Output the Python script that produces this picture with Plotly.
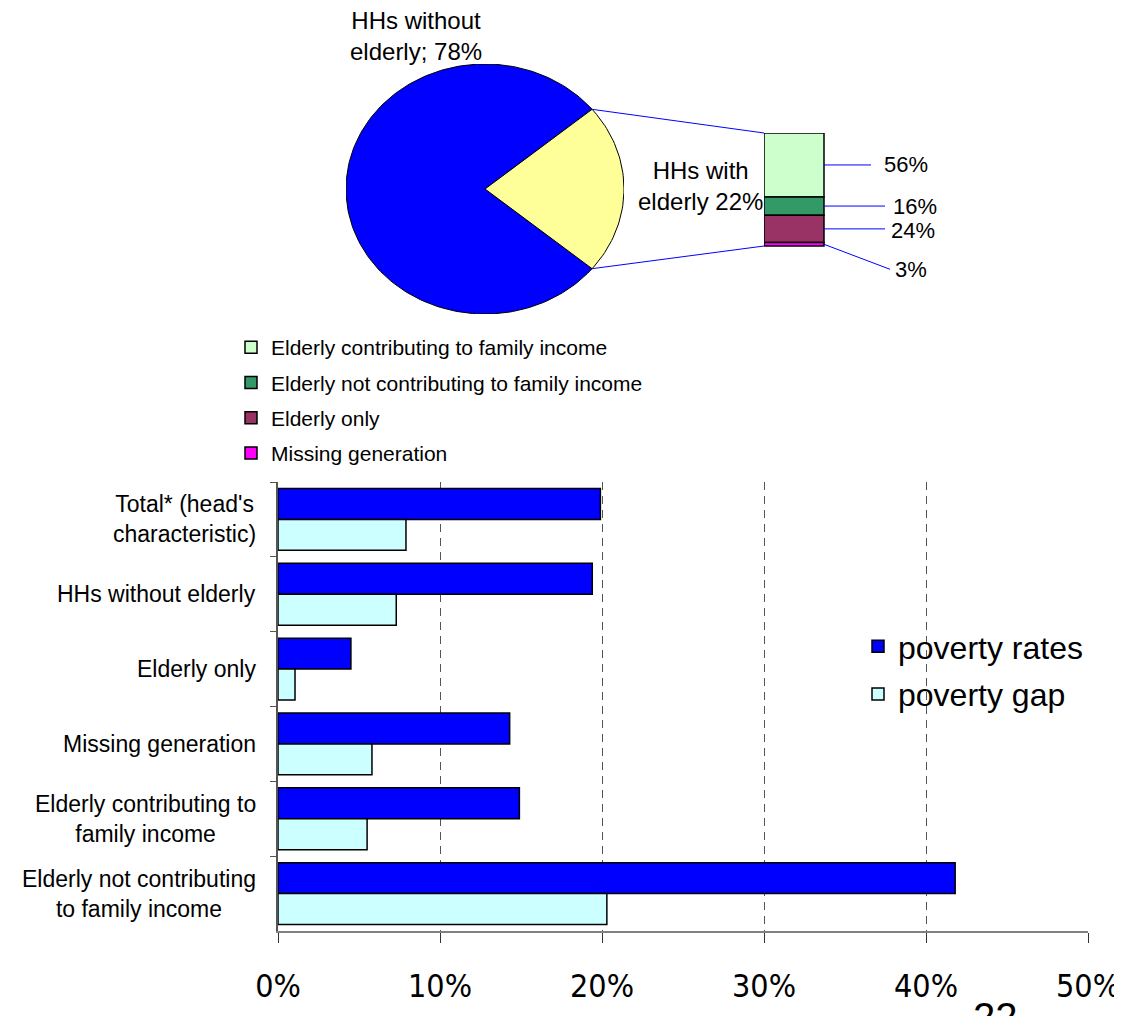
import math
import plotly.graph_objects as go

PAGE_W, PAGE_H = 1122, 1016
BODY = 8                      # page margin around the figure
W, H = PAGE_W - BODY, PAGE_H - BODY

# ---------------- data ----------------
pie_labels = ["HHs without elderly", "HHs with elderly"]
pie_values = [78, 22]

# listed top of the column first (legend order)
sub_labels = ["Elderly contributing to family income",
              "Elderly not contributing to family income",
              "Elderly only", "Missing generation"]
sub_values = [56, 16, 24, 3]
sub_text = ["56%", "16%", "24%", "3%"]

categories = ["Total* (head's<br>characteristic)", "HHs without elderly", "Elderly only",
              "Missing generation", "Elderly contributing to<br>family income",
              "Elderly not contributing<br>to family income"]
poverty_rates = [19.9, 19.4, 4.5, 14.3, 14.9, 41.8]
poverty_gap = [7.9, 7.3, 1.05, 5.8, 5.5, 20.3]
x_ticks = [0, 10, 20, 30, 40, 50]

# ---------------- styles ----------------
FONT = "Liberation Sans, Arial, sans-serif"
NARROW = "Liberation Sans Narrow, Arial Narrow, DejaVu Sans Condensed, sans-serif"
pie_colors = ["#0000FF", "#FFFF99"]
sub_colors = ["#CCFFCC", "#339966", "#993366", "#FF00FF"]
BLUE_LINE = "#0000FF"


def px_x(p):
    """page pixel x -> paper fraction"""
    return (p - BODY) / W


def px_y(p):
    """page pixel y -> paper fraction"""
    return (PAGE_H - p) / H


# pie geometry (page pixels)
pie_cx, pie_cy, pie_rx, pie_ry = 485, 189, 139, 125
pie_dom_x = [px_x(pie_cx - pie_rx), px_x(pie_cx + pie_rx)]
pie_dom_y = [px_y(pie_cy + pie_ry), px_y(pie_cy - pie_ry)]

# stacked column geometry (page pixels)
col_left, col_right, col_top, col_bottom = 764, 824, 133, 246
ax3_right_px, ax3_bottom_px = 960, 292
sub_total = sum(sub_values)
col_w = col_right - col_left
ppu = (col_bottom - col_top) / sub_total  # pixels per unit
x3_range = [-0.5, 0.5 + (ax3_right_px - col_right) / col_w]
y3_range = [-(ax3_bottom_px - col_bottom) / ppu, sub_total]

fig = go.Figure()

# ---------------- pie (elliptical) ----------------
total = sum(pie_values)
with_frac = pie_values[1] / total
half = with_frac * math.pi  # half-angle of the "with elderly" slice
slices = [(half, 2 * math.pi - half), (-half, half)]
for (a0, a1), col, name in zip(slices, pie_colors, pie_labels):
    n = max(8, int(abs(a1 - a0) / (2 * math.pi) * 240))
    xs = [0.0] + [math.cos(a0 + (a1 - a0) * i / n) for i in range(n + 1)] + [0.0]
    ys = [0.0] + [math.sin(a0 + (a1 - a0) * i / n) for i in range(n + 1)] + [0.0]
    fig.add_trace(go.Scatter(x=xs, y=ys, mode="lines", fill="toself", fillcolor=col,
                             line=dict(color="black", width=1), xaxis="x2", yaxis="y2",
                             showlegend=False, hoverinfo="skip", name=name))

# ---------------- stacked column (bases from the bottom) ----------------
bases = []
acc = 0
for v in reversed(sub_values):
    bases.insert(0, acc)
    acc += v

for v, b, col, name in zip(sub_values, bases, sub_colors, sub_labels):
    fig.add_trace(go.Bar(x=[0], y=[v], base=[b], width=1, offsetgroup="s",
                         marker=dict(color=col, line=dict(color="black", width=1.5)),
                         name=name, legend="legend2", legendgroup=name,
                         xaxis="x3", yaxis="y3", hoverinfo="skip"))

# leader lines + labels
leader_len_px = [47, 61, 61, 66]      # horizontal length from column edge
leader_drop_px = [0, 0, 0, 25]        # vertical drop of the leader end
label_gap_px = [11, 6, 4, 3]
label_dy_px = [0, 0, 2, 0]
for v, b, t, L, d, g, dy in zip(sub_values, bases, sub_text, leader_len_px,
                                 leader_drop_px, label_gap_px, label_dy_px):
    ymid = b + v / 2
    xe = 0.5 + L / col_w
    ye = ymid - d / ppu
    fig.add_trace(go.Scatter(x=[0.5, xe], y=[ymid, ye], mode="lines",
                             line=dict(color=BLUE_LINE, width=1), xaxis="x3", yaxis="y3",
                             showlegend=False, hoverinfo="skip"))
    fig.add_annotation(x=xe + g / col_w, y=ye - dy / ppu, xref="x3", yref="y3", text=t,
                       showarrow=False, xanchor="left", yanchor="middle",
                       font=dict(size=22, color="black", family=FONT))

# connector lines pie -> column (paper coords)
cxp = (pie_dom_x[0] + pie_dom_x[1]) / 2
cyp = (pie_dom_y[0] + pie_dom_y[1]) / 2
rxp = (pie_dom_x[1] - pie_dom_x[0]) / 2
ryp = (pie_dom_y[1] - pie_dom_y[0]) / 2
x3_dom = [px_x(col_left), px_x(ax3_right_px)]
y3_dom = [px_y(ax3_bottom_px), px_y(col_top)]


def y3_to_paper(v):
    return y3_dom[0] + (v - y3_range[0]) / (y3_range[1] - y3_range[0]) * (y3_dom[1] - y3_dom[0])


for ang, yv in [(half, sub_total), (-half, 0)]:
    fig.add_shape(type="line", xref="paper", yref="paper",
                  x0=cxp + rxp * math.cos(ang), y0=cyp + ryp * math.sin(ang),
                  x1=x3_dom[0], y1=y3_to_paper(yv),
                  line=dict(color=BLUE_LINE, width=1), layer="below")

# pie labels
fig.add_annotation(x=px_x(416), y=px_y(36), xref="paper", yref="paper",
                   text="HHs without<br>elderly; 78%", showarrow=False,
                   xanchor="center", yanchor="middle",
                   font=dict(size=24, color="black", family=FONT), align="center")
fig.add_annotation(x=px_x(700), y=px_y(186), xref="paper", yref="paper",
                   text="HHs with<br>elderly 22%", showarrow=False,
                   xanchor="center", yanchor="middle",
                   font=dict(size=24, color="black", family=FONT), align="center")

# ---------------- horizontal bars ----------------
fig.add_trace(go.Bar(y=categories, x=poverty_rates, orientation="h", name="poverty rates",
                     marker=dict(color="#0000FF", line=dict(color="black", width=1.5)),
                     legend="legend", legendgroup="r", hoverinfo="skip"))
fig.add_trace(go.Bar(y=categories, x=poverty_gap, orientation="h", name="poverty gap",
                     marker=dict(color="#CCFFFF", line=dict(color="black", width=1.5)),
                     legend="legend", legendgroup="g", hoverinfo="skip"))

for c in categories:
    fig.add_annotation(x=px_x(258), y=c, xref="paper", yref="y", text=c, showarrow=False,
                       xanchor="right", yanchor="middle", align="center",
                       font=dict(size=23, color="black", family=FONT))

# slide number (only its top shows at the bottom edge, as in the source)
fig.add_annotation(x=px_x(995), y=px_y(993), xref="paper", yref="paper", text="22",
                   showarrow=False, xanchor="center", yanchor="top",
                   font=dict(size=40, color="black", family=FONT))

fig.update_layout(
    width=W, height=H, margin=dict(l=0, r=0, t=0, b=0, autoexpand=False),
    paper_bgcolor="white", plot_bgcolor="rgba(0,0,0,0)",
    barmode="group", bargap=0.173, bargroupgap=0,
    font=dict(family=FONT, color="black"),
    xaxis=dict(domain=[px_x(278), px_x(1088)], range=[0, 50], tickvals=x_ticks,
               ticktext=[f"{v}%" for v in x_ticks], showgrid=True, gridcolor="#555555",
               griddash="8px,6px", gridwidth=1, zeroline=False, showline=True,
               linecolor="#808080", linewidth=1.5, ticks="outside", ticklen=10,
               tickcolor="#333333", tickfont=dict(size=32, family=NARROW),
               ticklabelstandoff=16, anchor="y", fixedrange=True, automargin=False),
    yaxis=dict(domain=[px_y(931), px_y(482)], type="category", autorange="reversed",
               showticklabels=False, ticks="outside", tickson="boundaries", ticklen=6,
               tickcolor="#555555", showline=True, linecolor="#555555", linewidth=1.5,
               showgrid=False, anchor="x", fixedrange=True, automargin=False),
    xaxis2=dict(domain=pie_dom_x, range=[-1.0, 1.0], visible=False, anchor="y2", fixedrange=True),
    yaxis2=dict(domain=pie_dom_y, range=[-1.0, 1.0], visible=False, anchor="x2", fixedrange=True),
    xaxis3=dict(domain=x3_dom, range=x3_range, visible=False, anchor="y3", fixedrange=True),
    yaxis3=dict(domain=y3_dom, range=y3_range, visible=False, anchor="x3", fixedrange=True),
    legend=dict(x=px_x(858), y=px_y(619), xanchor="left", yanchor="top",
                font=dict(size=32, family=FONT), traceorder="grouped", tracegroupgap=3,
                bgcolor="rgba(0,0,0,0)"),
    legend2=dict(x=px_x(231), y=px_y(327), xanchor="left", yanchor="top",
                 font=dict(size=21, family=FONT), traceorder="grouped",
                 tracegroupgap=5, bgcolor="rgba(0,0,0,0)"),
)

fig.write_html("out.html")
